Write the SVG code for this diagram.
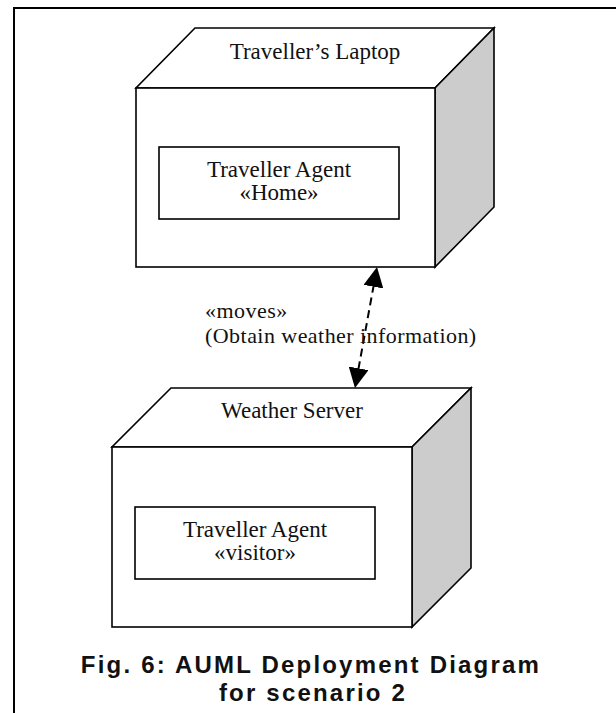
<svg xmlns="http://www.w3.org/2000/svg" width="616" height="713" viewBox="0 0 616 713">
  <style>
    .face { fill: #ffffff; stroke: #000000; stroke-width: 1.6; stroke-linejoin: miter; }
    .side { fill: #cccccc; stroke: #000000; stroke-width: 1.6; stroke-linejoin: miter; }
    .box { fill: #ffffff; stroke: #000000; stroke-width: 1.6; }
    .lbl { font-family: "Liberation Serif", "Times New Roman", serif; font-size: 23px; fill: #111111; }
    .note { font-family: "Liberation Serif", "Times New Roman", serif; font-size: 22px; letter-spacing: 0.45px; fill: #111111; }
    .mid { text-anchor: middle; }
    .cap { font-family: "Liberation Sans", Arial, sans-serif; font-size: 24px; font-weight: bold; fill: #111111; letter-spacing: 2.2px; text-anchor: middle; }
    .dep { fill: none; stroke: #000000; stroke-width: 2; stroke-dasharray: 8 5; }
  </style>
  <defs>
    <marker id="head" viewBox="0 0 20 20" refX="2" refY="10" markerWidth="20" markerHeight="20" markerUnits="userSpaceOnUse" orient="auto-start-reverse">
      <path d="M0,0 L20,10 L0,20 z" fill="#000000"/>
    </marker>
  </defs>

  <rect width="616" height="713" fill="#ffffff"/>

  <!-- figure frame (left and top edges) -->
  <path d="M14,713 L14,8 L616,8" fill="none" stroke="#000000" stroke-width="2"/>

  <!-- node: Traveller's Laptop -->
  <g id="laptop">
    <polygon class="face" points="195,28 494,28 435,88 136,88"/>
    <polygon class="side" points="435,88 494,28 494,207 435,267"/>
    <rect class="face" x="136" y="88" width="299" height="179"/>
    <text class="lbl mid" x="315" y="59">Traveller’s Laptop</text>
    <g id="laptop-agent">
      <rect class="box" x="159" y="147" width="240" height="72"/>
      <text class="lbl mid" x="279" y="177">Traveller Agent</text>
      <text class="lbl mid" x="279" y="200">«Home»</text>
    </g>
  </g>

  <!-- node: Weather Server -->
  <g id="weather-server">
    <polygon class="face" points="171,388 471,388 412,447 112,447"/>
    <polygon class="side" points="412,447 471,388 471,568 412,627"/>
    <rect class="face" x="112" y="447" width="300" height="180"/>
    <text class="lbl mid" x="292" y="418">Weather Server</text>
    <g id="server-agent">
      <rect class="box" x="135" y="507" width="240" height="72"/>
      <text class="lbl mid" x="255" y="537">Traveller Agent</text>
      <text class="lbl mid" x="255" y="560">«visitor»</text>
    </g>
  </g>

  <!-- connectors -->
  <g id="connectors">
    <path class="dep" d="M373.8,284.7 L358.2,370.3" marker-start="url(#head)" marker-end="url(#head)"/>
    <text class="note" x="205" y="318">«moves»</text>
    <text class="note" x="205" y="343">(Obtain weather information)</text>
  </g>

  <!-- caption -->
  <g id="caption">
    <text class="cap" x="311" y="673">Fig. 6: AUML Deployment Diagram</text>
    <text class="cap" x="313" y="701">for scenario 2</text>
  </g>
</svg>
